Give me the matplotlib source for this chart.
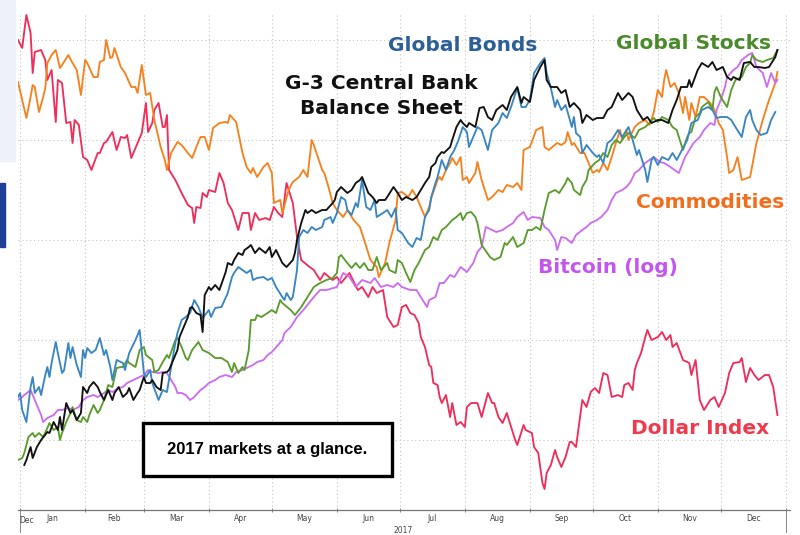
import numpy as np
import matplotlib
matplotlib.use("Agg")
import matplotlib.pyplot as plt
from matplotlib.patches import Rectangle

# days counted from 1 Jan 2017, values on an unlabeled rebased scale
dollar_days = [-1, 1, 3, 5, 6, 7, 10, 12, 13, 15, 17, 18, 20, 22, 24, 25, 26, 28, 30, 32,
               34, 37, 38, 40, 41, 44, 46, 48, 50, 51, 53, 56, 58, 60, 61, 63, 64, 66, 68, 69,
               70, 71, 74, 77, 80, 82, 83, 84, 86, 87, 89, 90, 93, 95, 97, 99, 101, 104, 106, 109,
               110, 112, 114, 117, 119, 121, 123, 125, 127, 130, 132, 134, 138, 140, 143, 145, 149, 151, 153, 157,
               161, 163, 166, 168, 170, 173, 175, 178, 180, 182, 184, 186, 188, 190, 191, 193, 195, 196, 197, 199,
               200, 201, 203, 205, 206, 208, 210, 212, 213, 215, 218, 220, 223, 225, 226, 228, 230, 232, 233, 236,
               237, 240, 241, 244, 245, 247, 249, 250, 251, 253, 255, 256, 258, 260, 262, 263, 265, 268, 270, 272,
               274, 276, 278, 280, 282, 285, 287, 288, 290, 292, 293, 294, 296, 298, 299, 301, 304, 306, 308, 310,
               311, 313, 316, 319, 320, 322, 324, 326, 329, 331, 333, 336, 338, 340, 343, 344, 346, 348, 350, 352,
               355, 357, 359, 361]
dollar_vals = [100, 98.4, 105, 101.4, 93.4, 97.6, 98, 96, 92, 94, 83.6, 92, 91.4, 83.4, 83.6, 79.4, 84, 83, 76.6, 76,
               74, 77.4, 77.4, 79.4, 79.6, 81.6, 78, 80.6, 80.4, 81, 76.4, 79.4, 81.4, 87.4, 81.6, 83.4, 86, 87.4, 82.6, 82.6,
               85, 74, 72, 69.4, 67, 66.4, 63.4, 66.6, 66.4, 69.4, 68.6, 70, 69.6, 73.4, 71.4, 67.4, 66, 62, 65.4, 65.4,
               62, 65.4, 64, 64.4, 64, 66.6, 65.4, 64.6, 71.4, 67.4, 60.6, 56, 54.6, 54, 52, 53.4, 52, 52.6, 51.4, 53.4,
               50, 50.6, 48.6, 50.6, 49.4, 50, 44.6, 42.6, 43, 46.6, 47, 45.4, 45, 43.4, 40.6, 38.6, 35, 34.6, 31.4, 31,
               28.6, 27.4, 29, 24.6, 27.4, 23, 23.6, 22.6, 26.6, 27.4, 27.4, 24.6, 29.4, 27.4, 27.4, 24.6, 23.4, 25.4, 24, 20,
               19, 23, 22, 21.4, 18.6, 17.4, 11.4, 10.2, 13.4, 15, 18, 16.6, 14.6, 16.6, 19.6, 19.6, 18.6, 28, 26.6, 29.6,
               30.4, 29.4, 33.4, 33, 28.6, 29, 28.6, 31, 31.4, 30, 34, 35.4, 37.4, 40.6, 42, 40, 40.6, 41.6, 40, 41,
               38.6, 39.4, 36, 35.4, 33, 36, 28, 26, 28, 28.6, 26.6, 29.4, 33.4, 35.4, 35.6, 36.4, 31.6, 34.4, 33, 32,
               33, 33, 30.6, 25]

commod_days = [-1, 1, 3, 5, 6, 7, 9, 11, 12, 13, 15, 17, 19, 20, 23, 25, 27, 29, 31, 32,
               35, 37, 38, 40, 41, 43, 44, 45, 48, 50, 53, 55, 56, 58, 60, 62, 64, 67, 69, 70,
               72, 75, 77, 80, 82, 84, 86, 88, 90, 92, 95, 98, 99, 100, 103, 106, 108, 110, 111, 113,
               116, 118, 120, 121, 124, 125, 128, 130, 133, 135, 137, 139, 140, 144, 145, 147, 149, 151, 154, 156,
               159, 162, 164, 167, 170, 171, 174, 176, 179, 180, 182, 185, 187, 189, 191, 193, 195, 196, 199, 200,
               201, 203, 205, 206, 208, 210, 211, 213, 214, 217, 218, 220, 223, 225, 228, 230, 232, 235, 237, 239,
               240, 243, 246, 249, 250, 252, 256, 258, 260, 261, 263, 264, 267, 269, 271, 273, 275, 276, 278, 280,
               282, 284, 286, 287, 289, 290, 293, 295, 298, 300, 302, 304, 306, 307, 308, 310, 312, 314, 316, 317,
               319, 320, 322, 324, 326, 329, 331, 333, 335, 337, 338, 340, 342, 344, 348, 351, 354, 357, 360, 361]
commod_vals = [91.6, 88, 84.4, 88.6, 91, 90.6, 85.6, 88.6, 90.4, 95.4, 97, 98, 94.4, 95, 97, 95.4, 94, 89, 96, 95.4,
               92.6, 92.6, 95.6, 96, 100, 96.4, 96.6, 98.4, 94.6, 93.4, 90.6, 90.6, 89.4, 95, 89, 89.4, 84, 78.6, 76, 74,
               77.4, 79.6, 79, 77.4, 76.4, 78.6, 80.6, 80.6, 78, 82.4, 83.4, 83.6, 83.4, 85, 83.6, 77.4, 74.6, 73.4, 74.4, 72.6,
               74.6, 75.4, 73.4, 67.4, 68, 65.4, 70, 71.6, 72.6, 74, 72.6, 80, 79, 74, 73.4, 70.6, 67.4, 66, 64.6, 66,
               64, 62.6, 60, 56, 54.6, 52.6, 55.4, 59.4, 64, 69.4, 69.6, 68.6, 70, 68.6, 66.6, 64.6, 66.6, 68.4, 72, 72.6,
               72, 74, 75.4, 76.4, 75, 76.6, 72, 72.6, 71.4, 73.4, 75.6, 72, 68, 68.6, 70, 69.6, 71, 70.6, 71.4, 70,
               78, 78.6, 82, 82.6, 78.6, 78, 79.4, 79, 79.6, 81.6, 79, 79.4, 77.4, 77.4, 75.4, 73.4, 74, 73.6, 75.4, 74,
               76.6, 79.4, 82, 80, 82, 80, 82.6, 83.4, 84, 83, 85.4, 90, 88.6, 92, 94, 90.6, 91.4, 89.4, 85.4, 88.6,
               84, 87.4, 84.6, 88.6, 88.6, 87.4, 86, 83.4, 82, 76.6, 73.4, 74, 76.6, 72, 72.6, 79.4, 84, 88, 91.4, 93.6]

bonds_days = [-1, 0, 1, 3, 5, 6, 7, 9, 10, 12, 13, 14, 15, 17, 18, 20, 21, 23, 24, 25,
              27, 29, 30, 31, 32, 34, 36, 38, 40, 41, 43, 44, 46, 49, 50, 52, 55, 57, 59, 60,
              62, 63, 66, 68, 70, 72, 74, 75, 77, 79, 81, 83, 85, 87, 90, 91, 93, 96, 99, 101,
              102, 104, 106, 108, 110, 111, 113, 116, 118, 120, 122, 125, 126, 127, 129, 130, 132, 133, 135, 137,
              139, 141, 144, 145, 148, 149, 151, 153, 155, 156, 158, 160, 161, 163, 165, 167, 169, 170, 173, 175,
              177, 179, 180, 182, 185, 187, 189, 191, 193, 195, 196, 198, 199, 201, 203, 205, 207, 209, 211, 213,
              214, 216, 218, 220, 223, 225, 228, 230, 232, 234, 237, 239, 241, 243, 245, 248, 250, 251, 253, 255,
              256, 258, 260, 261, 263, 264, 265, 267, 268, 270, 273, 275, 276, 278, 280, 282, 285, 287, 290, 292,
              294, 295, 298, 299, 301, 302, 304, 306, 309, 311, 313, 316, 318, 320, 323, 325, 328, 330, 332, 334,
              337, 339, 341, 344, 346, 348, 349, 351, 353, 356, 358, 360]
bonds_vals = [28.6, 29.4, 26, 23.6, 30.6, 32.6, 29.4, 30.6, 29, 33, 34.6, 32.6, 35.4, 39.6, 37.4, 33.4, 34, 39.4, 36.4, 38.6,
              35, 32.6, 38, 36.4, 38.4, 37.4, 38, 40.4, 37, 38, 34.6, 32, 36, 35.4, 34, 37.4, 40, 42, 33.4, 32.6,
              34, 31.4, 28, 30, 29.6, 34.6, 39.4, 41.4, 44, 44.6, 45.4, 48, 46.6, 44.4, 46, 44.6, 46.4, 46.6, 49.4, 52.6,
              53.4, 54.6, 54, 53.4, 54, 52, 52.4, 52.6, 52, 52.4, 50.6, 48.6, 48, 49.4, 48, 48.6, 54, 60.6, 62, 61.4,
              62.6, 62, 62.6, 64, 64.6, 63.4, 65.4, 68.6, 68, 66, 65, 67.4, 66.6, 72, 66.6, 66, 68, 64.6, 65.4, 66,
              64.6, 66.4, 62, 61.4, 59.4, 58.6, 60.4, 60, 64.6, 66, 68.6, 71.4, 72.6, 76, 74, 76.6, 78, 80, 82.6, 81.6,
              78.6, 80.6, 82.6, 82, 78, 82, 83.4, 85.4, 84.4, 86.6, 90.4, 86.6, 86.6, 88, 93.4, 95.4, 96.4, 93.4, 90.4, 86.6,
              88, 86, 87, 85.6, 82.6, 84.6, 81.4, 80.6, 77.4, 79, 77.4, 76.6, 77, 75.4, 79.4, 80, 82, 80.6, 82.6, 80,
              77, 78, 74, 71.6, 76, 76.6, 75, 76.6, 76, 77.4, 76, 78.4, 80, 83.4, 84, 86, 86.6, 86, 84.4, 84.6,
              84.6, 84, 82.6, 80.6, 84.6, 86, 84, 82, 81, 81.4, 84, 85.6]

cb_days = [2, 3, 5, 6, 8, 10, 13, 14, 16, 18, 19, 20, 22, 24, 25, 27, 29, 30, 32, 33,
           35, 37, 38, 40, 42, 44, 45, 47, 49, 51, 52, 54, 56, 57, 59, 60, 62, 63, 65, 67,
           68, 70, 71, 73, 75, 76, 78, 80, 81, 82, 84, 86, 87, 88, 90, 91, 93, 95, 98, 99,
           101, 102, 104, 106, 107, 109, 110, 112, 114, 117, 119, 120, 122, 125, 127, 130, 131, 132, 134, 136,
           137, 139, 141, 144, 146, 149, 150, 151, 153, 156, 158, 160, 162, 163, 166, 168, 170, 171, 174, 175,
           178, 180, 182, 184, 187, 189, 191, 193, 195, 196, 198, 199, 201, 202, 205, 206, 208, 210, 211, 213,
           214, 217, 219, 221, 223, 225, 227, 230, 232, 234, 237, 239, 240, 243, 245, 248, 250, 251, 253, 256,
           258, 260, 262, 264, 267, 268, 270, 273, 275, 278, 280, 282, 285, 287, 290, 292, 294, 297, 299, 301,
           304, 306, 309, 311, 313, 315, 318, 319, 320, 323, 325, 328, 330, 332, 335, 337, 339, 340, 343, 345,
           348, 350, 352, 355, 357, 360, 361]
cb_vals = [15, 16, 18.6, 16.4, 18.6, 20, 21.6, 21.4, 23.6, 22, 24.6, 22, 27.4, 25.4, 26, 24, 25.4, 30.6, 29.4, 30.6,
           31.6, 30.6, 29.6, 28, 30, 28, 29.4, 30.6, 28.6, 29.4, 30.4, 28, 29.4, 30, 32.6, 31.4, 31.4, 32, 30.6, 30,
           33.4, 33.6, 34, 36, 38, 40.6, 42.6, 44.6, 46.4, 46.6, 45.4, 45, 41.6, 49, 50.6, 50, 51, 50, 53.6, 55.4,
           55, 56, 57.4, 57, 58, 58.6, 59, 57.4, 58.4, 57.4, 58.6, 56.6, 58, 55.4, 54.6, 56, 57.4, 60, 63.4, 66,
           65.4, 66, 65.4, 66, 66, 67.4, 68, 69.6, 70.6, 69.4, 70, 71.4, 72, 72.6, 69.4, 68.6, 67.4, 68, 68, 68.6,
           70.6, 69.4, 68, 68.6, 68, 68.6, 70, 71.4, 72.6, 74.6, 75.4, 76.6, 77.6, 77.4, 78.6, 80, 82.6, 84, 83.4, 82.6,
           83.4, 82.6, 86.4, 86.6, 84.6, 84, 86, 87, 86, 88.6, 90.6, 87.4, 88.6, 87.6, 92, 94.6, 96, 92, 90.6, 90.6,
           89.4, 90, 86.6, 87.4, 86, 83.4, 85, 84, 84.4, 84.4, 86, 86.6, 89.4, 88, 89.4, 88.6, 86, 84, 84.6, 83.4,
           84, 84, 83.4, 86, 88, 90.6, 90.6, 92, 90.6, 94, 95.4, 94.6, 95.6, 94, 94.6, 92.6, 92, 92.6, 92, 95.4,
           95.6, 94.6, 94.6, 94.4, 94.6, 96.6, 98]

stocks_days = [-1, 1, 2, 4, 6, 7, 9, 11, 13, 14, 16, 18, 19, 20, 22, 24, 25, 27, 29, 30,
               32, 33, 35, 37, 38, 40, 42, 44, 46, 48, 49, 51, 52, 55, 57, 59, 60, 63, 64, 66,
               68, 70, 71, 74, 75, 77, 79, 80, 82, 85, 87, 90, 93, 96, 99, 101, 102, 104, 106, 107,
               109, 110, 112, 113, 115, 118, 120, 122, 124, 125, 129, 131, 134, 137, 140, 143, 146, 149, 151, 152,
               153, 156, 158, 160, 162, 164, 166, 168, 170, 172, 175, 176, 179, 180, 182, 184, 186, 188, 190, 193,
               195, 197, 199, 201, 203, 206, 208, 210, 211, 213, 215, 217, 218, 220, 224, 226, 229, 231, 232, 235,
               237, 240, 242, 244, 246, 248, 250, 252, 255, 257, 260, 261, 263, 264, 267, 268, 270, 271, 274, 276,
               278, 280, 282, 284, 286, 288, 290, 293, 295, 298, 300, 302, 304, 306, 309, 311, 313, 314, 316, 318,
               319, 320, 322, 324, 325, 328, 330, 331, 332, 334, 337, 339, 341, 344, 346, 348, 349, 351, 354, 356,
               359, 361]
stocks_vals = [16, 16.4, 17.4, 20.6, 21.4, 20.6, 21.4, 20.6, 22.4, 23.4, 22, 22.6, 20, 21.4, 23.6, 25.4, 26.6, 24, 23.6, 24.6,
               23.6, 25, 27, 25.4, 26, 28, 31, 30.6, 34.4, 34.6, 34.6, 36, 35.4, 34.6, 38, 38.6, 37, 36, 33.6, 34,
               35.6, 37, 36.4, 40, 40.4, 38.6, 36.4, 36, 38, 39.6, 38, 37.4, 36.4, 36.4, 35.6, 33.6, 35.4, 33.4, 34.6, 34,
               38, 44, 44, 45, 44.6, 45.4, 46, 45.4, 48, 47.4, 46, 45, 46.6, 48.6, 50.6, 51.4, 52, 52.4, 53.4, 56.6,
               57, 55.4, 54.4, 55.4, 54.4, 55.4, 54, 54, 56.6, 54, 55.4, 54, 53.4, 56, 55.4, 53.4, 51.6, 54, 55.4, 58,
               58.6, 60.6, 60, 62, 62.6, 64, 64.6, 65.4, 64, 65.4, 65.6, 64.6, 63.4, 59, 56.6, 56, 56.6, 59.4, 59, 60.6,
               58.6, 59.4, 62, 62, 62.6, 62, 66, 69.4, 70, 69.4, 71.4, 72.4, 71.4, 70, 69, 70.6, 72, 74, 75.4, 76,
               77.4, 76.6, 79, 80, 79.4, 80.6, 81.4, 80.4, 82, 82.6, 83.4, 84.4, 83.6, 84.6, 84, 82.6, 82, 80.6, 78, 80.6,
               81.4, 81.6, 84.6, 85.4, 86.6, 87.6, 86, 89.6, 90.6, 88.6, 86.6, 90, 92, 92.6, 94.6, 95.4, 97, 96, 95.6, 96,
               96.4, 98]

btc_days = [-1, 1, 2, 5, 7, 10, 11, 13, 16, 18, 20, 23, 25, 28, 30, 32, 35, 37, 40, 42,
            44, 47, 49, 51, 54, 56, 59, 61, 63, 66, 68, 70, 72, 74, 75, 77, 79, 81, 83, 86,
            88, 90, 93, 95, 98, 101, 103, 106, 109, 111, 113, 116, 118, 120, 123, 125, 126, 129, 132, 135,
            140, 143, 146, 151, 154, 157, 160, 163, 167, 169, 172, 175, 178, 180, 182, 186, 189, 191, 194, 195,
            198, 200, 202, 205, 207, 210, 213, 216, 218, 220, 222, 225, 227, 230, 232, 235, 237, 240, 242, 244,
            248, 250, 252, 255, 256, 258, 260, 263, 265, 268, 270, 272, 275, 277, 280, 282, 284, 287, 289, 291,
            293, 295, 298, 300, 302, 305, 307, 310, 312, 314, 317, 319, 321, 324, 326, 329, 331, 332, 334, 336,
            337, 340, 342, 344, 347, 349, 350, 351, 354, 356, 358, 360, 361]
btc_vals = [28, 28.6, 29, 30, 28, 25, 23.6, 24.4, 25, 26, 26, 26.4, 26, 26.6, 28, 28.6, 29, 28.6, 29.4, 30,
            29.6, 30.4, 30.6, 31.4, 32, 32.4, 33, 34, 33.6, 33.4, 33.6, 33.4, 32, 30.6, 29.4, 29.4, 29, 28, 28.6, 30,
            30.6, 31.4, 32, 32.6, 33, 32.6, 33.6, 34, 34.6, 35, 35.6, 36, 37, 37.6, 39, 40, 41.4, 42.6, 44.6, 46,
            48.6, 50, 50, 50.6, 53.4, 52.6, 50.6, 52, 51.4, 52.4, 50.6, 51, 50.6, 51.4, 50.6, 50, 50, 48.6, 46.6, 48,
            48.6, 51.4, 51.4, 53, 52.6, 54.6, 53.6, 55.4, 57.6, 58.6, 62.6, 62, 61.6, 62, 62.6, 63.4, 64.6, 65.6, 64, 64.6,
            64.4, 62.6, 62, 60, 58, 60.6, 60.4, 59.4, 61, 62, 62.6, 63.4, 64, 64.6, 66, 68, 69.4, 70, 70.6, 71.6,
            73.4, 74, 75.4, 76, 76.6, 75.6, 75.4, 74.6, 74, 73.4, 76.6, 78, 79.4, 80.6, 82, 83.4, 83, 86, 88, 90.6,
            92.6, 94, 94.6, 96, 97, 97.4, 96, 94.6, 93.4, 90.6, 93.4, 91.4, 92]

month_names = ["Jan", "Feb", "Mar", "Apr", "May", "Jun",
               "Jul", "Aug", "Sep", "Oct", "Nov", "Dec"]
year_label = "2017"
box_text = "2017 markets at a glance."

col_red = "#ee2f5c"
col_orange = "#f5821f"
col_blue = "#3a86c2"
col_black = "#111111"
col_green = "#5c9c2e"
col_violet = "#cc6ef0"

fig = plt.figure(figsize=(8, 5.35), dpi=100)
ax = fig.add_axes([0.0225, 0.0467, 0.965, 0.929])

# page strip on the left edge
fig.patches.append(Rectangle((0, 0.70), 0.019, 0.30, transform=fig.transFigure,
                             color="#eef1f7", zorder=0))
fig.patches.append(Rectangle((0, 0.538), 0.0065, 0.12, transform=fig.transFigure,
                             color="#1d3f95", zorder=0))

month_starts = (np.arange("2017-01", "2018-02", dtype="datetime64[M]").astype("datetime64[D]")
                - np.datetime64("2017-01-01")).astype(int)
month_mids = (month_starts[:-1] + month_starts[1:]) / 2

lw = 1.35
ax.plot(dollar_days, dollar_vals, color=col_red, lw=lw, zorder=3)
ax.plot(commod_days, commod_vals, color=col_orange, lw=lw, zorder=3)
ax.plot(btc_days, btc_vals, color=col_violet, lw=lw, zorder=3)
ax.plot(stocks_days, stocks_vals, color=col_green, lw=lw, zorder=4)
ax.plot(bonds_days, bonds_vals, color=col_blue, lw=lw, zorder=4)
ax.plot(cb_days, cb_vals, color=col_black, lw=lw, zorder=5)

ax.set_xlim(-1, 367)
ax.set_ylim(6, 105.4)

grid_kw = dict(color="#c4c4c4", lw=0.8, linestyle=(0, (1, 2.5)), zorder=1)
for y in [20, 40, 60, 80, 100]:
    ax.axhline(y, **grid_kw)
for d in month_starts:
    ax.axvline(d, **grid_kw)

for s in ["left", "right", "top"]:
    ax.spines[s].set_visible(False)
ax.spines["bottom"].set_color("#777777")
ax.spines["bottom"].set_linewidth(0.9)

ax.set_yticks([])
ax.set_xticks(month_starts, minor=True)
ax.set_xticks(month_mids)
ax.set_xticklabels(month_names, fontsize=5.5, color="#444444")
ax.tick_params(axis="x", which="major", length=0, pad=3)
ax.tick_params(axis="x", which="minor", length=3, direction="inout", color="#777777")
ax.text(0.002, -0.012, "Dec", transform=ax.transAxes, ha="left", va="top",
        fontsize=5.5, color="#444444")
ax.text(month_starts[-1] / 2, -0.032, year_label, transform=ax.get_xaxis_transform(),
        ha="center", va="top", fontsize=5.5, color="#444444")
for d in [month_starts[0], month_starts[-1]]:
    ax.plot([d, d], [0, -0.045], transform=ax.get_xaxis_transform(), color="#888888",
            lw=0.7, clip_on=False)

lab = dict(fontsize=14.5, fontweight="bold", ha="center", va="center", zorder=6)
ax.text(211, 99.0, "Global Bonds", color="#2b5f95", **lab)
ax.text(321, 99.4, "Global Stocks", color="#4a8a2a", **lab)
ax.text(172, 91.4, "G-3 Central Bank", color="#111111", **lab)
ax.text(172, 86.4, "Balance Sheet", color="#111111", **lab)
ax.text(329, 67.6, "Commodities", color="#f36e1c", **lab)
ax.text(280, 54.6, "Bitcoin (log)", color="#c455f0", **lab)
ax.text(324, 22.4, "Dollar Index", color="#ee3a4c", **lab)

ax.add_patch(Rectangle((0.162, 0.0684), 0.3225, 0.1066, transform=ax.transAxes,
                       facecolor="white", edgecolor="black", lw=2.4, zorder=7))
ax.text(0.3225, 0.1215, box_text, transform=ax.transAxes, ha="center", va="center",
        fontsize=12, fontweight="bold", family="Liberation Sans", zorder=8)

fig.savefig("out.png", dpi=100)
